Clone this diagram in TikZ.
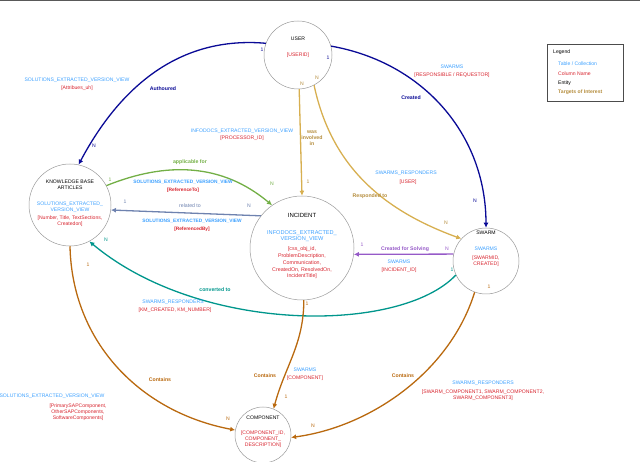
\documentclass[tikz,border=0pt]{standalone}
\usepackage{fontspec}
\setmainfont{Liberation Sans}
\begin{document}
\begin{tikzpicture}[x=1pt,y=1pt,
  ent/.style={circle,draw=gray!80,line width=0.5pt,inner sep=0pt},
  t/.style={font=\fontsize{5.1}{6.1}\selectfont,align=center,inner sep=0pt},
  tb/.style={t,text=tblue},
  tr/.style={t,text=tred},
  lb/.style={t,font=\fontsize{5.2}{6.2}\selectfont\bfseries},
  rel/.style={line width=1.3pt,-{Latex[length=5pt,width=5pt]}}]
\usetikzlibrary{arrows.meta}
\definecolor{tblue}{RGB}{60,160,255}
\definecolor{tred}{RGB}{215,35,45}
\definecolor{dblue}{RGB}{10,10,150}
\definecolor{gold}{RGB}{215,175,80}
\definecolor{goldt}{RGB}{180,140,60}
\definecolor{green}{RGB}{115,175,70}
\definecolor{slate}{RGB}{110,130,175}
\definecolor{purp}{RGB}{150,90,200}
\definecolor{teal}{RGB}{0,150,140}
\definecolor{brown}{RGB}{185,105,15}
\useasboundingbox (0,0) rectangle (640,462);
\draw[gray!70!black,line width=1.5pt] (0,461.5) -- (640,461.5);
% entities
\node[ent,minimum size=68pt] (user) at (298,407) {};
\node[ent,minimum size=82pt] (kb) at (70,257) {};
\node[ent,minimum size=104pt] (inc) at (302,214) {};
\node[ent,minimum size=66pt] (swarm) at (486,201) {};
\node[ent,minimum size=56pt] (comp) at (263,27) {};
% entity texts
\node[t] (uname) at (298,423) {USER};
\node[tr] (uid) at (298,407) {[USERID]};
\node[t] (kbname) at (70,277) {KNOWLEDGE BASE\\ARTICLES};
\node[tb] (kbt) at (70,255) {SOLUTIONS\_EXTRACTED\_\\VERSION\_VIEW};
\node[tr] (kbc) at (70,241) {[Number, Title, TextSections,\\Createdon]};
\node[t,font=\fontsize{6}{7}\selectfont] (iname) at (302,247) {INCIDENT};
\node[tb,font=\fontsize{5.6}{6.6}\selectfont] (it) at (302,226) {INFODOCS\_EXTRACTED\_\\VERSION\_VIEW};
\node[tr,font=\fontsize{5.3}{6.8}\selectfont] (ic) at (302,199) {[css\_obj\_id,\\ProblemDescription,\\Communication,\\CreatedOn, ResolvedOn,\\IncidentTitle]};
\node[t] (sname) at (486,229) {SWARM};
\node[tb] (st) at (486,213) {SWARMS};
\node[tr] (sc) at (486,201) {[SWARMID,\\CREATED]};
\node[t] (cname) at (263,44) {COMPONENT};
\node[tr] (cc) at (263,23) {[COMPONENT\_ID,\\COMPONENT\_\\DESCRIPTION]};
% legend
\node[draw=gray!60!black,line width=0.8pt,minimum width=76pt,minimum height=57pt] (leg) at (585,389.5) {};
\node[t,anchor=west] (l0) at (553,410) {Legend};
\node[tb,anchor=west] (l1) at (558,398) {Table / Collection};
\node[tr,anchor=west] (l2) at (558,388) {Column Name};
\node[t,anchor=west] (l3) at (558,379) {Entity};
\node[t,text=goldt,anchor=west,font=\fontsize{5.1}{6.1}\selectfont\bfseries] (l4) at (558,370) {Targets of Interest};
% edges
\draw[rel,dblue] (user.160) to[out=175,in=62] (kb.78);
\node[lb,text=dblue] (a1) at (163,373) {Authoured};
\node[t,text=dblue] (a2) at (262,412) {1};
\node[t,text=dblue] (a3) at (94,316) {N};
\node[tb] (a4) at (77,382) {SOLUTIONS\_EXTRACTED\_VERSION\_VIEW};
\node[tr] (a5) at (77,374) {[Attribues\_uh]};

\draw[rel,dblue] (user.15) to[out=-10,in=90] (swarm.90);
\node[lb,text=dblue] (b1) at (411,364) {Created};
\node[t,text=dblue] (b2) at (328,404) {1};
\node[t,text=dblue] (b3) at (475,261) {N};
\node[tb] (b4) at (452,395) {SWARMS};
\node[tr] (b5) at (452,387) {[RESPONSIBLE / REQUESTOR]};

\draw[rel,gold] (user.-88) -- (inc.90);
\node[lb,text=goldt] (c1) at (312,324) {was\\involved\\in};
\node[t,text=goldt] (c2) at (302,378) {N};
\node[t,text=goldt] (c3) at (308,280) {1};
\node[tb] (c4) at (242,331) {INFODOCS\_EXTRACTED\_VERSION\_VIEW};
\node[tr] (c5) at (242,324) {[PROCESSOR\_ID]};

\draw[rel,gold] (user.-62) to[out=-78,in=160] (swarm.138);
\node[lb,text=goldt] (d1) at (370,266) {Responded to};
\node[t,text=goldt] (d2) at (317,384) {N};
\node[t,text=goldt] (d3) at (446,239) {N};
\node[tb] (d4) at (406,289) {SWARMS\_RESPONDERS};
\node[tr] (d5) at (408,280) {[USER]};

\draw[rel,green] (kb.28) to[out=22,in=140] (inc.125);
\node[lb,text=green] (e1) at (190,300) {applicable for};
\node[t,text=green] (e2) at (110,282) {1};
\node[t,text=green] (e3) at (272,278) {N};
\node[tb,font=\fontsize{4.8}{5.8}\selectfont\bfseries] (e4) at (183,280) {SOLUTIONS\_EXTRACTED\_VERSION\_VIEW};
\node[tr,font=\fontsize{4.8}{5.8}\selectfont\bfseries] (e5) at (183,272) {[ReferenceTo]};

\draw[rel,slate] (inc.142) -- (kb.-7);
\node[lb,text=slate,font=\fontsize{5.2}{6.2}\selectfont] (f1) at (190,256) {related to};
\node[t,text=slate] (f2) at (249,256) {N};
\node[t,text=slate] (f3) at (125,260) {1};
\node[tb,font=\fontsize{4.8}{5.8}\selectfont\bfseries] (f4) at (192,241) {SOLUTIONS\_EXTRACTED\_VERSION\_VIEW};
\node[tr,font=\fontsize{4.8}{5.8}\selectfont\bfseries] (f5) at (192,233) {[ReferencedBy]};

\draw[rel,purp] (swarm.168) -- (inc.-7);
\node[lb,text=purp] (g1) at (405,213) {Created for Solving};
\node[t,text=purp] (g2) at (447,213) {N};
\node[t,text=purp] (g3) at (362,217) {1};
\node[tb] (g4) at (399,200) {SWARMS};
\node[tr] (g5) at (399,192) {[INCIDENT\_ID]};

\draw[rel,teal] (swarm.205) .. controls (400,128) and (200,128) .. (kb.-62);
\node[lb,text=teal] (h1) at (215,172) {converted to};
\node[t,text=teal] (h2) at (106,222) {N};
\node[t,text=teal] (h3) at (452,192) {1};
\node[tb] (h4) at (173,160) {SWARMS\_RESPONDERS};
\node[tr] (h5) at (175,152) {[KM\_CREATED, KM\_NUMBER]};

\draw[rel,brown] (kb.-90) .. controls (72,120) and (140,50) .. (comp.170);
\node[lb,text=brown] (i1) at (160,82) {Contains};
\node[t,text=brown] (i2) at (88,197) {1};
\node[t,text=brown] (i3) at (228,43) {N};
\node[tb] (i4) at (52,66) {SOLUTIONS\_EXTRACTED\_VERSION\_VIEW};
\node[tr] (i5) at (78,50) {[PrimarySAPComponent,\\OtherSAPComponents,\\SoftwareComponents]};

\draw[rel,brown] (inc.-88) to[out=-90,in=75] (comp.68);
\node[lb,text=brown] (j1) at (265,86) {Contains};
\node[t,text=brown] (j2) at (307,158) {1};
\node[t,text=brown] (j3) at (286,65) {1};
\node[tb] (j4) at (305,92) {SWARMS};
\node[tr] (j5) at (305,84) {[COMPONENT]};

\draw[rel,brown] (swarm.-110) .. controls (450,90) and (370,35) .. (comp.-5);
\node[lb,text=brown] (k1) at (403,86) {Contains};
\node[t,text=brown] (k2) at (489,175) {1};
\node[t,text=brown] (k3) at (313,36) {N};
\node[tb] (k4) at (483,79) {SWARMS\_RESPONDERS};
\node[tr] (k5) at (483,67) {[SWARM\_COMPONENT1, SWARM\_COMPONENT2,\\SWARM\_COMPONENT3]};
\end{tikzpicture}
\end{document}
